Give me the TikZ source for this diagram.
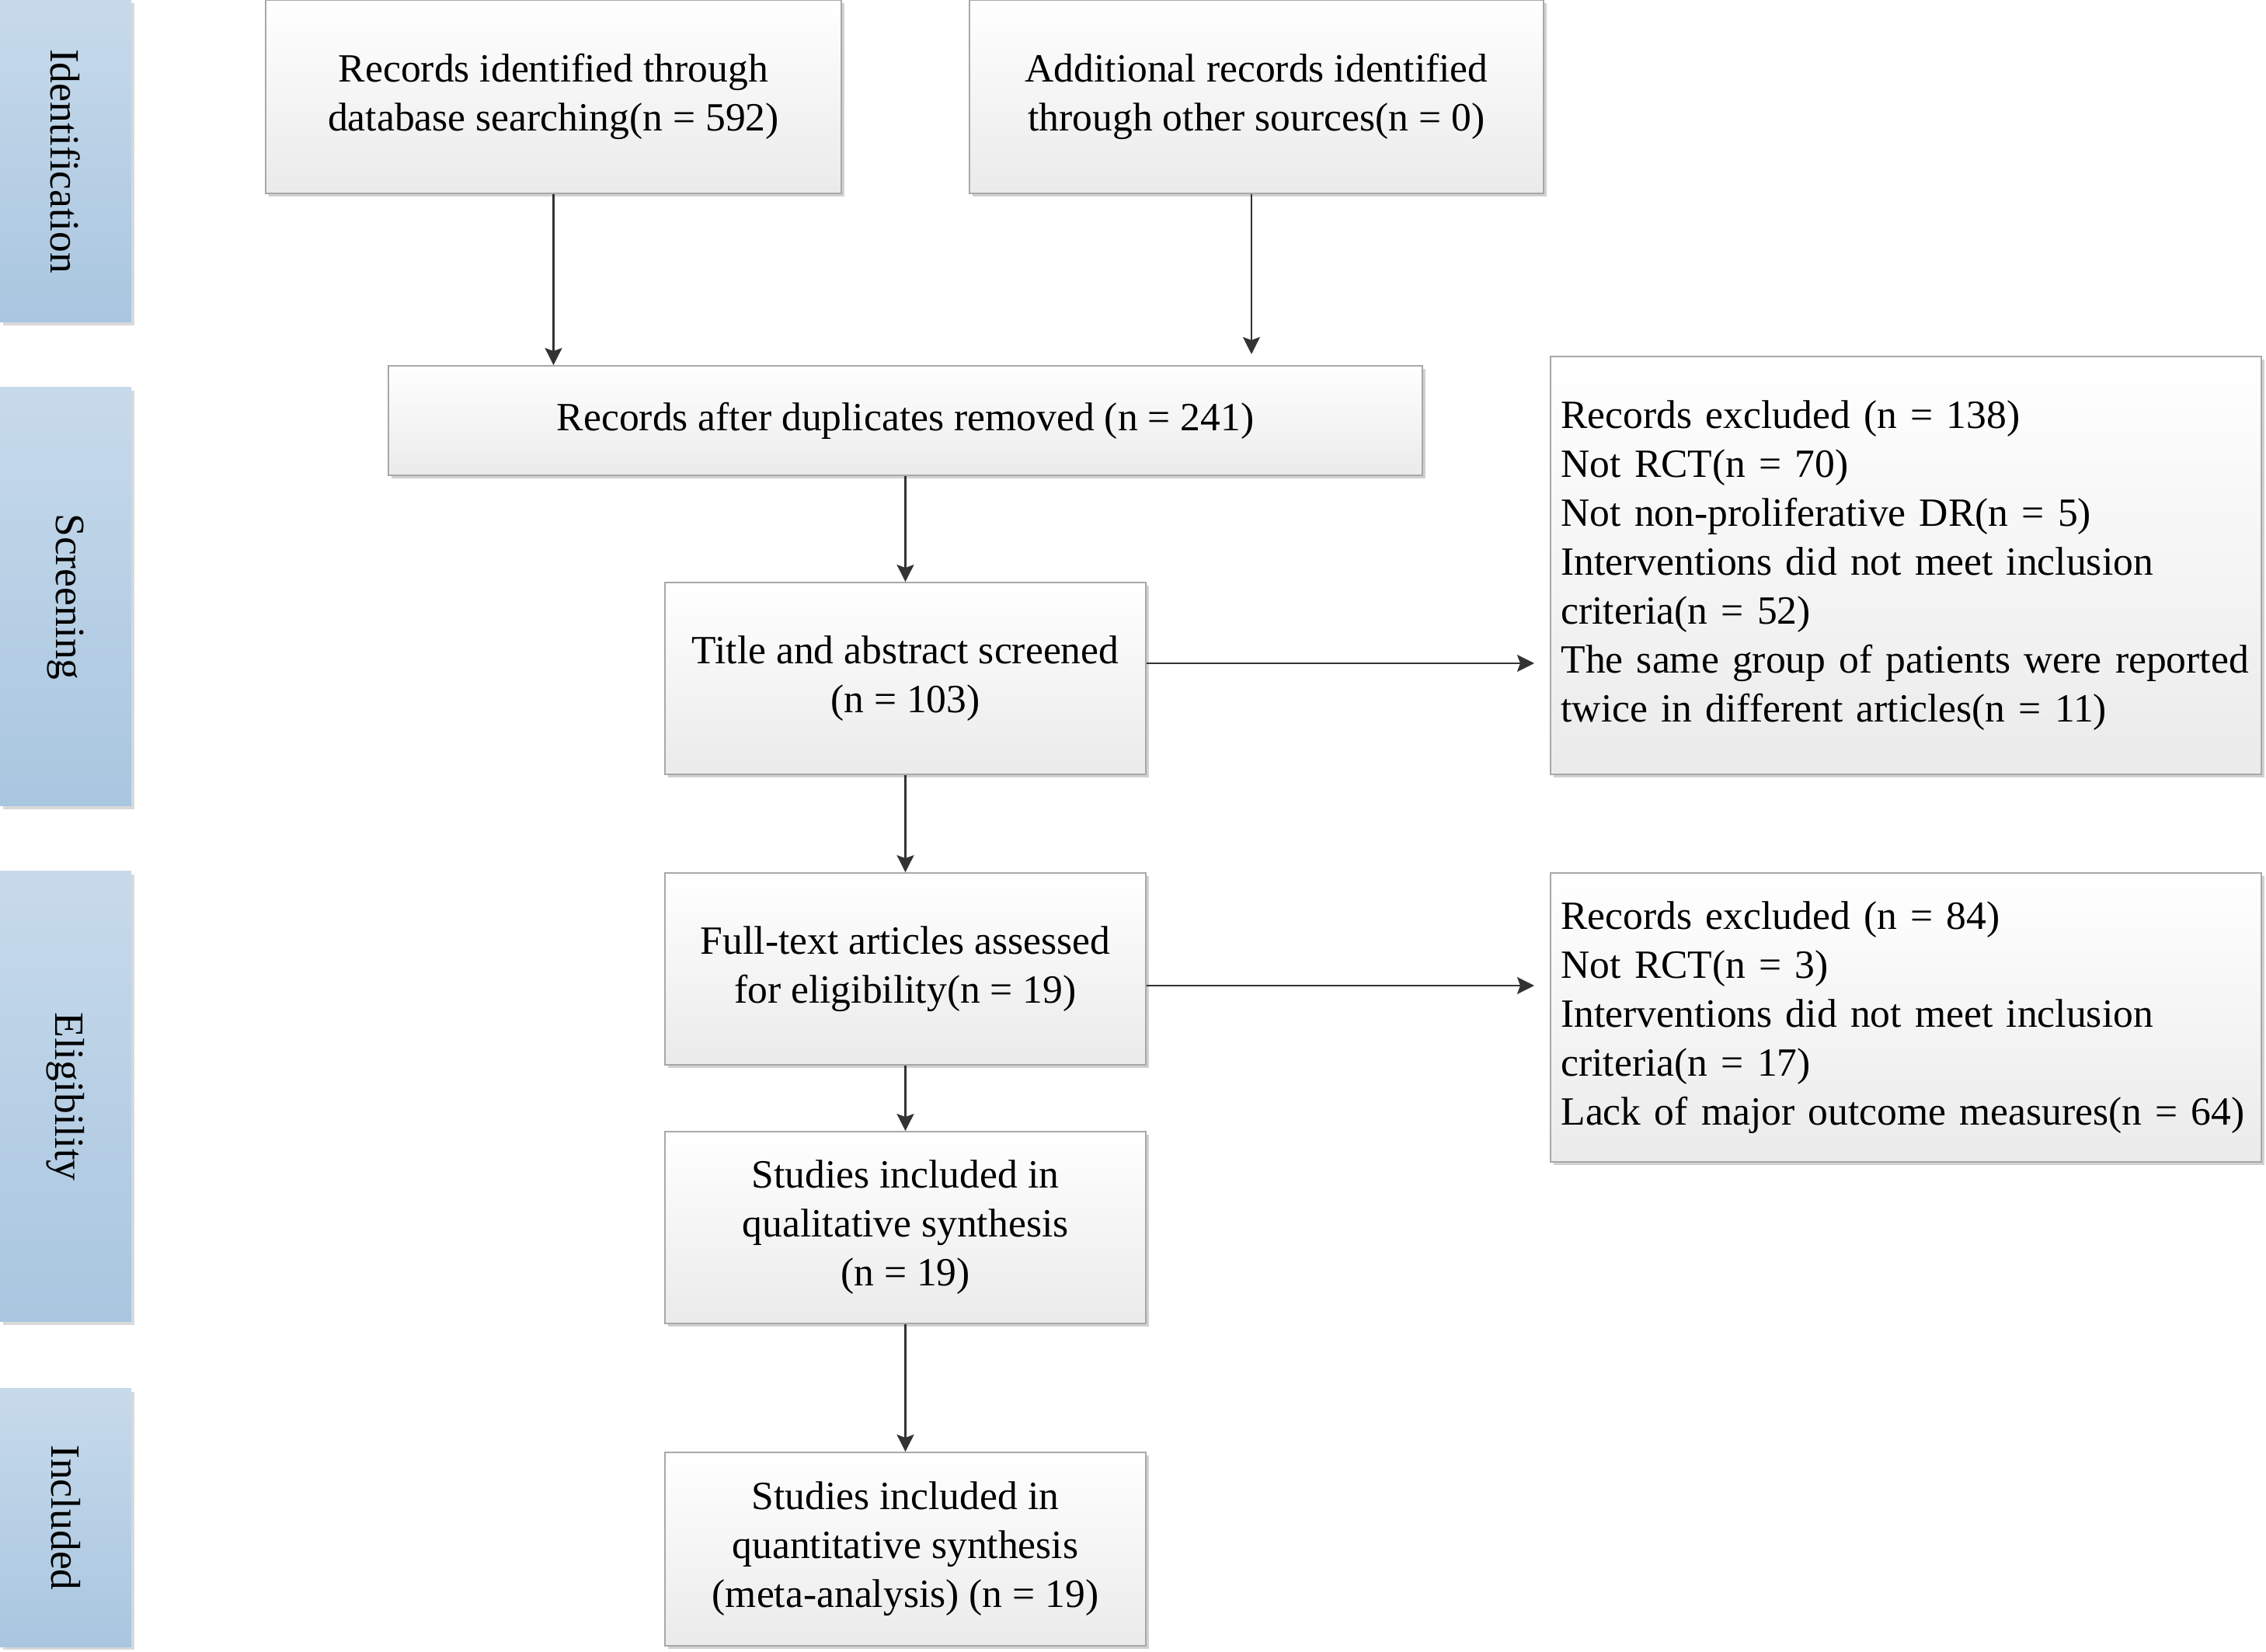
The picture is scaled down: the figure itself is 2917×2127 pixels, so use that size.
\documentclass[tikz,border=0pt]{standalone}
\usepackage{fontspec}
\usepackage{graphicx}
\setmainfont{Liberation Serif}
\usetikzlibrary{shadows,arrows.meta,calc}
\definecolor{bordergray}{HTML}{A8A8A8}
\definecolor{sideTop}{HTML}{C7DAEB}
\definecolor{sideBot}{HTML}{A9C6E0}
\definecolor{linegray}{HTML}{333333}
\tikzset{
  box/.style={draw=bordergray, line width=0.45pt, top color=white, bottom color=black!8,
    drop shadow={shadow xshift=0.9pt, shadow yshift=-0.9pt, fill=black!18, opacity=1},
    inner sep=0pt, font=\fontsize{12.9}{15.75}\selectfont, align=center},
  leftbox/.style={box, align=left, text width=222pt},
  side/.style={top color=sideTop, bottom color=sideBot,
    drop shadow={shadow xshift=0.9pt, shadow yshift=-0.9pt, fill=black!15, opacity=1},
    inner sep=0pt, minimum width=42.25pt, font=\fontsize{13.4}{16}\selectfont},
  arr/.style={draw=linegray, line width=0.6pt, -{Stealth[length=5.5pt,width=5.5pt,inset=1pt]}}
}
\begin{document}
\begin{tikzpicture}[x=0.25pt,y=-0.25pt]
\fill[white] (0,0) rectangle (2917,2127);
\useasboundingbox (0,0) rectangle (2917,2127);

% side bars
\node[side, minimum height=103.75pt] (s1) at (84.5,207.5) {\rotatebox{-90}{Identification}};
\node[side, minimum height=134.75pt] (s2) at (84.5,768.5) {\rotatebox{-90}{Screening}};
\node[side, minimum height=145pt] (s3) at (84.5,1412) {\rotatebox{-90}{Eligibility}};
\node[side, minimum height=83pt] (s4) at (84.5,1954) {\rotatebox{-90}{Included}};

% boxes
\node[box, minimum width=185.25pt, minimum height=62.25pt] (A) at (712.5,124.5)
  {Records identified through\\database searching(n = 592)};
\node[box, minimum width=184.75pt, minimum height=62.25pt] (B) at (1617.5,124.5)
  {Additional records identified\\through other sources(n = 0)};
\node[box, minimum width=332.75pt, minimum height=35.25pt] (C) at (1165.5,541.5)
  {Records after duplicates removed (n = 241)};
\node[box, minimum width=154.75pt, minimum height=61.75pt] (D) at (1165.5,873.5)
  {Title and abstract screened\\(n = 103)};
\node[leftbox, minimum width=228.75pt, minimum height=134.5pt] (E) at (2453.5,728)
  {\mbox{Records excluded (n = 138)}\\
   \mbox{Not RCT(n = 70)}\\
   \mbox{Not non-proliferative DR(n = 5)}\\
   \mbox{Interventions did not meet inclusion}\\
   \mbox{criteria(n = 52)}\\
   \mbox{The same group of patients were reported}\\
   \mbox{twice in different articles(n = 11)}};
\node[box, minimum width=154.75pt, minimum height=61.75pt] (F) at (1165.5,1247.5)
  {Full-text articles assessed\\for eligibility(n = 19)};
\node[leftbox, minimum width=228.75pt, minimum height=93pt] (G) at (2453.5,1310)
  {\mbox{Records excluded (n = 84)}\\
   \mbox{Not RCT(n = 3)}\\
   \mbox{Interventions did not meet inclusion}\\
   \mbox{criteria(n = 17)}\\
   \mbox{Lack of major outcome measures(n = 64)}};
\node[box, minimum width=154.75pt, minimum height=61.75pt] (H) at (1165.5,1580.5)
  {Studies included in\\qualitative synthesis\\(n = 19)};
\node[box, minimum width=154.75pt, minimum height=62.25pt] (I) at (1165.5,1994.5)
  {Studies included in\\quantitative synthesis\\(meta-analysis) (n = 19)};

% connector ends
\coordinate (Bend) at (1611,456);
\coordinate (Eend) at (1975,854);
\coordinate (Gend) at (1975,1269);

% connectors
\draw[arr] (A.south) -- (A.south |- C.north);
\draw[arr] (B.south -| Bend) -- (Bend);
\draw[arr] (C.south) -- (D.north);
\draw[arr] (D.east |- Eend) -- (Eend);
\draw[arr] (D.south) -- (F.north);
\draw[arr] (F.east |- Gend) -- (Gend);
\draw[arr] (F.south) -- (H.north);
\draw[arr] (H.south) -- (I.north);
\end{tikzpicture}
\end{document}
